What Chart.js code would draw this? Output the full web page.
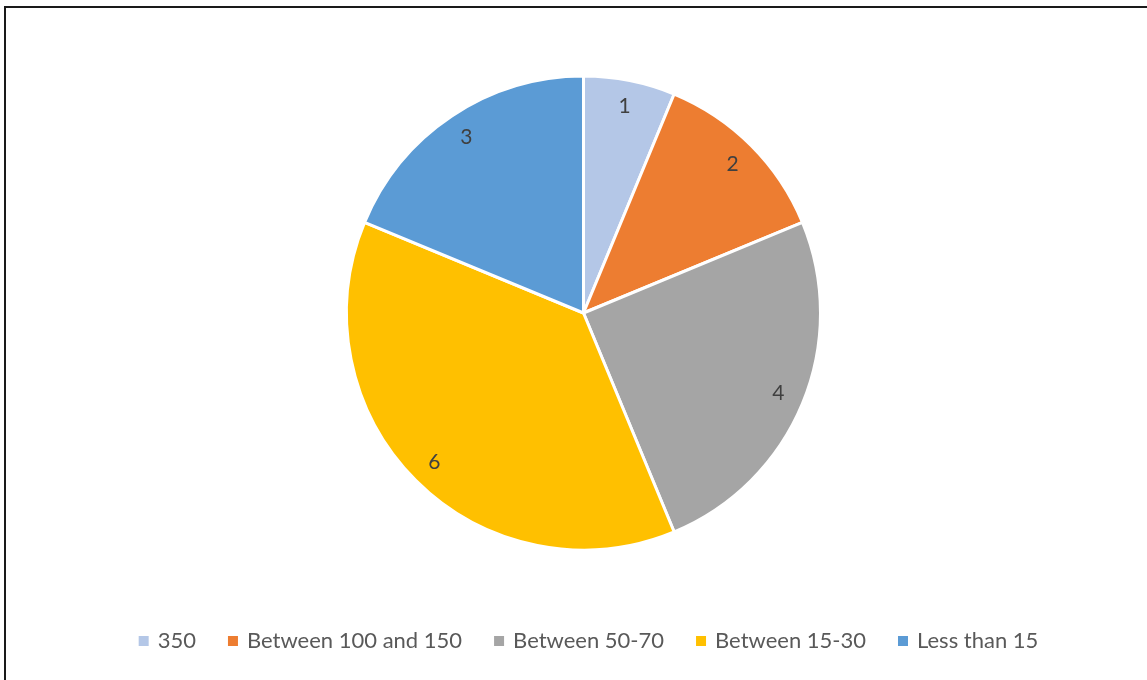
<!DOCTYPE html>
<html>
<head>
<meta charset="utf-8">
<script src="https://cdn.jsdelivr.net/npm/chart.js@4/dist/chart.umd.min.js"></script>
<style>
  html, body { margin: 0; padding: 0; background: #fff; overflow: hidden; }
  #wrap { position: relative; width: 1147px; height: 680px; }
  #c { position: absolute; left: 0; top: 0; }
  #frame { position: absolute; left: 4px; top: 6px; width: 1200px; height: 700px; border: 2px solid #1a1a1a; pointer-events: none; box-sizing: border-box; }
</style>
</head>
<body>
<div id="wrap">
  <canvas id="c" width="1147" height="680"></canvas>
  <div id="frame"></div>
</div>
<script>
const categories = ['350', 'Between 100 and 150', 'Between 50-70', 'Between 15-30', 'Less than 15'];
const values = [1, 2, 4, 6, 3];
const colors = ['#B4C7E7', '#ED7D31', '#A5A5A5', '#FFC000', '#5B9BD5'];

const FONT = 'Lato, Carlito, Calibri, sans-serif';

const sliceLabels = {
  id: 'sliceLabels',
  afterDatasetsDraw(chart) {
    const ctx = chart.ctx;
    const meta = chart.getDatasetMeta(0);
    ctx.save();
    ctx.font = '21px ' + FONT;
    ctx.fillStyle = '#404040';
    ctx.textAlign = 'center';
    ctx.textBaseline = 'middle';
    meta.data.forEach((arc, i) => {
      const p = arc.getProps(['x', 'y', 'startAngle', 'endAngle', 'outerRadius'], true);
      const mid = (p.startAngle + p.endAngle) / 2;
      const r = p.outerRadius * 0.89;
      ctx.fillText(String(chart.data.datasets[0].data[i]), p.x + Math.cos(mid) * r, p.y + Math.sin(mid) * r);
    });
    ctx.restore();
  }
};

const legendShift = {
  id: 'legendShift',
  afterLayout(chart) {
    if (chart.legend) { chart.legend.left += 6; chart.legend.right += 6; }
  }
};

new Chart(document.getElementById('c'), {
  type: 'pie',
  data: {
    labels: categories,
    datasets: [{
      data: values,
      backgroundColor: colors,
      borderColor: '#ffffff',
      borderWidth: 3
    }]
  },
  options: {
    responsive: false,
    animation: false,
    devicePixelRatio: 1,
    layout: { padding: { top: 74.5, left: 20, right: 0, bottom: 18 } },
    plugins: {
      tooltip: { enabled: false },
      legend: {
        position: 'bottom',
        title: { display: true, text: ' ', font: { size: 1, lineHeight: 1 }, padding: { top: 43.5, bottom: 0 } },
        labels: {
          font: { family: FONT, size: 22 },
          color: '#595959',
          usePointStyle: true,
          pointStyle: 'rect',
          boxWidth: 6,
          boxHeight: 10,
          padding: 34,
          generateLabels(chart) {
            const items = Chart.overrides.pie.plugins.legend.labels.generateLabels(chart);
            return items.map(it => Object.assign(it, { lineWidth: 0, strokeStyle: it.fillStyle }));
          }
        }
      }
    }
  },
  plugins: [sliceLabels, legendShift]
});
</script>
</body>
</html>
